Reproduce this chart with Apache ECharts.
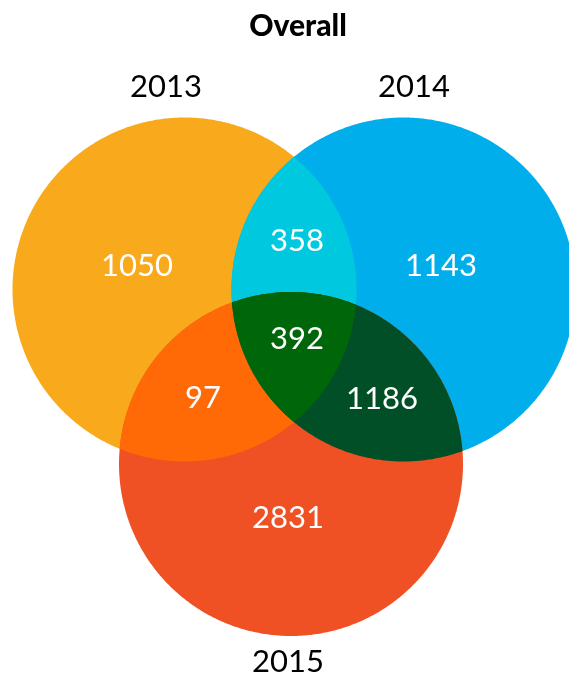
<!DOCTYPE html>
<html>
<head>
<meta charset="utf-8">
<script src="https://cdn.jsdelivr.net/npm/echarts@6/dist/echarts.min.js"></script>
<style>html,body{margin:0;padding:0;background:#fff;}#main{width:569px;height:679px;}</style>
</head>
<body>
<div id="main"></div>
<script>
// ---- data ----
const chartTitle = 'Overall';
const setNames = ['2013', '2014', '2015'];
const regionSets = [[0], [1], [2], [0, 1], [0, 2], [1, 2], [0, 1, 2]];
const regionValues = [1050, 1143, 2831, 358, 97, 1186, 392];

// ---- styles / layout ----
const regionColors = ['#F9AA1C', '#00AEEB', '#F05124', '#00C8DE', '#FF6A06', '#004F26', '#00660A'];
const R = 172;
const circleLayout = [[184.5, 289.5], [403.5, 289.5], [291, 464]];
const valueLabelPos = [[137, 266], [441, 266], [288, 518], [297, 241], [203, 398], [382, 399], [297, 339]];
const setLabelPos = [[166, 87], [414, 87], [288, 662]];

function regionPolygon(sets) {
  const N = 720;
  const pts = [];
  sets.forEach(function (k) {
    const c = circleLayout[k];
    for (let i = 0; i < N; i++) {
      const a = 2 * Math.PI * i / N;
      const x = c[0] + R * Math.cos(a), y = c[1] + R * Math.sin(a);
      let ok = true;
      sets.forEach(function (j) {
        if (j === k) return;
        const cj = circleLayout[j];
        if (Math.hypot(x - cj[0], y - cj[1]) > R + 0.01) ok = false;
      });
      if (ok) pts.push([x, y]);
    }
  });
  let mx = 0, my = 0;
  pts.forEach(function (p) { mx += p[0]; my += p[1]; });
  mx /= pts.length; my /= pts.length;
  pts.sort(function (p, q) { return Math.atan2(p[1] - my, p[0] - mx) - Math.atan2(q[1] - my, q[0] - mx); });
  return pts;
}

const chart = echarts.init(document.getElementById('main'), null, { renderer: 'canvas' });
const fontFamily = 'Lato, "Noto Sans", sans-serif';

const option = {
  animation: false,
  graphic: [{
    type: 'text', x: 298, y: 26,
    style: {
      text: chartTitle, fill: '#000', fontFamily: fontFamily, fontWeight: 900, fontSize: 30,
      align: 'center', verticalAlign: 'middle'
    }
  }],
  grid: { left: 0, right: 0, top: 0, bottom: 0 },
  xAxis: { type: 'value', min: 0, max: 569, show: false },
  yAxis: { type: 'value', min: 0, max: 679, inverse: true, show: false },
  series: [{
    type: 'custom',
    coordinateSystem: 'cartesian2d',
    clip: false,
    data: regionValues.map(function (v, i) { return [i, v]; }),
    encode: { x: 0, y: 1 },
    renderItem: function (params, api) {
      const idx = params.dataIndex;
      const sets = regionSets[idx];
      const poly = regionPolygon(sets).map(function (p) { return api.coord(p); });
      const lp = api.coord(valueLabelPos[idx]);
      const children = [{
        type: 'polygon',
        shape: { points: poly },
        style: { fill: regionColors[idx], stroke: null },
        z2: idx
      }, {
        type: 'text',
        x: lp[0], y: lp[1],
        z2: 100,
        style: {
          text: String(api.value(1)),
          fill: '#fff', fontSize: 31, fontFamily: fontFamily,
          align: 'center', verticalAlign: 'middle'
        }
      }];
      if (sets.length === 1) {
        const sp = api.coord(setLabelPos[sets[0]]);
        children.push({
          type: 'text', x: sp[0], y: sp[1], z2: 100,
          style: {
            text: setNames[sets[0]], fill: '#000', fontSize: 31, fontFamily: fontFamily,
            align: 'center', verticalAlign: 'middle'
          }
        });
      }
      return { type: 'group', children: children };
    }
  }]
};
chart.setOption(option);
</script>
</body>
</html>
